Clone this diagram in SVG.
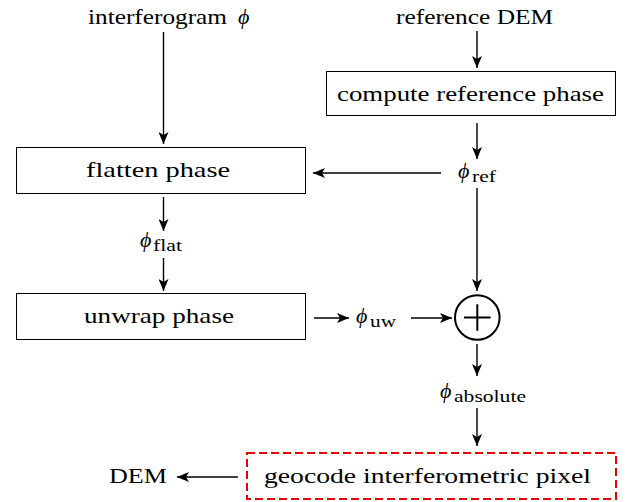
<svg xmlns="http://www.w3.org/2000/svg" width="626" height="502" viewBox="0 0 626 502">
  <style>
    .lbl { font-family: 'Liberation Serif', serif; font-size: 22px; fill: #000; }
    .sym { font-family: 'Liberation Serif', serif; font-size: 22px; font-style: italic; fill: #000; }
    .sub { font-family: 'Liberation Serif', serif; font-size: 16px; fill: #000; }
    .box { fill: #fff; stroke: #000; stroke-width: 1; }
    .dash { fill: #fff; stroke: #e60000; stroke-width: 2; stroke-dasharray: 8 4; }
    .edge { fill: none; stroke: #000; stroke-width: 1.4; marker-end: url(#arr); }
  </style>
  <defs>
    <marker id="arr" markerUnits="userSpaceOnUse" markerWidth="13" markerHeight="10" refX="12" refY="5" orient="auto">
      <path d="M0,0 L12,5 L0,10 L3,5 z" fill="#000"/>
    </marker>
  </defs>

  <rect width="626" height="502" fill="#fff"/>

  <!-- connectors -->
  <g id="connectors">
    <line class="edge" x1="163.5" y1="32" x2="163.5" y2="144"/>
    <line class="edge" x1="477" y1="31" x2="477" y2="68"/>
    <line class="edge" x1="477" y1="123" x2="477" y2="159"/>
    <line class="edge" x1="441" y1="173" x2="313" y2="173"/>
    <line class="edge" x1="477" y1="188" x2="477" y2="291"/>
    <line class="edge" x1="163.5" y1="197" x2="163.5" y2="231"/>
    <line class="edge" x1="163.5" y1="258" x2="163.5" y2="291"/>
    <line class="edge" x1="314" y1="318" x2="349" y2="318"/>
    <line class="edge" x1="411" y1="318" x2="452" y2="318"/>
    <line class="edge" x1="477" y1="344" x2="477" y2="376"/>
    <line class="edge" x1="477" y1="408" x2="477" y2="446"/>
    <line class="edge" x1="238" y1="477" x2="177" y2="477"/>
  </g>

  <g id="interferogram">
    <text class="lbl" x="88" y="24" textLength="139" lengthAdjust="spacingAndGlyphs">interferogram</text>
    <text class="sym" x="238" y="24">ϕ</text>
  </g>

  <g id="reference-dem">
    <text class="lbl" x="474.5" y="24" text-anchor="middle" textLength="157" lengthAdjust="spacingAndGlyphs">reference DEM</text>
  </g>

  <g id="compute-reference-phase">
    <rect class="box" x="326.5" y="71.5" width="289" height="44"/>
    <text class="lbl" x="470.5" y="101" text-anchor="middle" textLength="267" lengthAdjust="spacingAndGlyphs">compute reference phase</text>
  </g>

  <g id="phi-ref">
    <text class="sym" x="458" y="178">ϕ</text>
    <text class="sub" x="472" y="182" textLength="24" lengthAdjust="spacingAndGlyphs">ref</text>
  </g>

  <g id="flatten-phase">
    <rect class="box" x="16.5" y="147.5" width="289" height="46"/>
    <text class="lbl" x="158" y="177" text-anchor="middle" textLength="144" lengthAdjust="spacingAndGlyphs">flatten phase</text>
  </g>

  <g id="phi-flat">
    <text class="sym" x="140" y="247">ϕ</text>
    <text class="sub" x="153" y="251" textLength="29" lengthAdjust="spacingAndGlyphs">flat</text>
  </g>

  <g id="unwrap-phase">
    <rect class="box" x="16.5" y="293.5" width="289" height="46"/>
    <text class="lbl" x="159" y="323" text-anchor="middle" textLength="150" lengthAdjust="spacingAndGlyphs">unwrap phase</text>
  </g>

  <g id="phi-uw">
    <text class="sym" x="356" y="323">ϕ</text>
    <text class="sub" x="370" y="327" textLength="26" lengthAdjust="spacingAndGlyphs">uw</text>
  </g>

  <g id="sum">
    <circle cx="477.3" cy="317.5" r="22.3" fill="#fff" stroke="#000" stroke-width="2"/>
    <path d="M464,317.5 H490.6 M477.3,304.2 V330.8" stroke="#000" stroke-width="2" fill="none"/>
  </g>

  <g id="phi-absolute">
    <text class="sym" x="440" y="398">ϕ</text>
    <text class="sub" x="454" y="402" textLength="72" lengthAdjust="spacingAndGlyphs">absolute</text>
  </g>

  <g id="geocode">
    <rect class="dash" x="247" y="453" width="369" height="46"/>
    <text class="lbl" x="427.5" y="483" text-anchor="middle" textLength="327" lengthAdjust="spacingAndGlyphs">geocode interferometric pixel</text>
  </g>

  <g id="dem">
    <text class="lbl" x="138" y="483" text-anchor="middle" textLength="58" lengthAdjust="spacingAndGlyphs">DEM</text>
  </g>
</svg>
